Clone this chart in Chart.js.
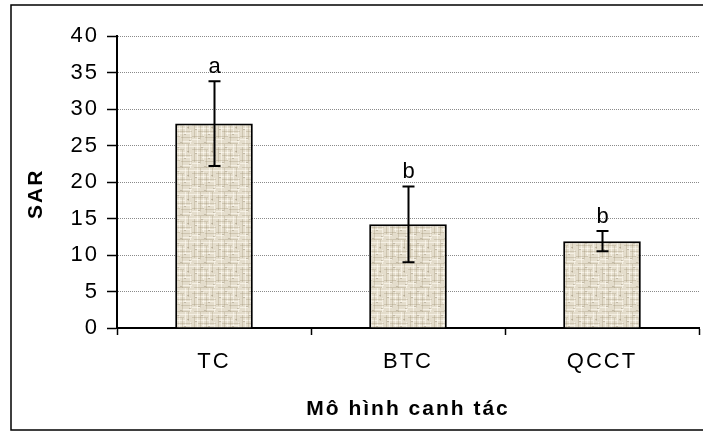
<!DOCTYPE html>
<html>
<head>
<meta charset="utf-8">
<style>
  html, body { margin: 0; padding: 0; background: #fff; }
  #wrap { position: relative; width: 703px; height: 432px; }
</style>
<script src="https://cdn.jsdelivr.net/npm/chart.js@4/dist/chart.umd.min.js"></script>
</head>
<body>
<div id="wrap"><canvas id="c" width="703" height="432"></canvas></div>
<script>
// SAR by farming model: mean, standard error and significance group
const categories = ['TC', 'BTC', 'QCCT'];
const sarMean = [28.0, 14.2, 11.9];
const sarError = [5.8, 5.2, 1.4];
const groupLetters = ['a', 'b', 'b'];
const yMin = 0;
const yMax = 40;
const yStep = 5;

const FONT = 'Liberation Sans, Arial, sans-serif';
const SPACING = '2px';
const canvas = document.getElementById('c');
const ctx2d = canvas.getContext('2d');

// Woven linen-like fill for the bars: pale weave with uneven threads
function linenPattern() {
  const p = document.createElement('canvas');
  p.width = 24; p.height = 24;
  const g = p.getContext('2d');
  g.fillStyle = '#e4ddcc';
  g.fillRect(0, 0, 24, 24);
  // pale threads
  g.fillStyle = 'rgba(255,252,242,0.6)';
  [[0, 2, 24], [3, 8, 14], [10, 13, 12], [0, 19, 9], [14, 21, 10]].forEach(([x, y, w]) => g.fillRect(x, y, w, 1));
  [[5, 0, 24], [11, 4, 12], [17, 0, 14], [22, 10, 14]].forEach(([x, y, h]) => g.fillRect(x, y, 1, h));
  // darker threads
  g.fillStyle = 'rgba(150,135,105,0.28)';
  [[0, 5, 16], [6, 11, 18], [0, 16, 12], [13, 17, 11], [2, 23, 20]].forEach(([x, y, w]) => g.fillRect(x, y, w, 1));
  [[2, 3, 15], [8, 0, 20], [14, 6, 18], [20, 0, 9]].forEach(([x, y, h]) => g.fillRect(x, y, 1, h));
  // specks
  g.fillStyle = 'rgba(120,105,80,0.3)';
  [[3, 9], [9, 3], [16, 14], [21, 20], [12, 22], [6, 18], [19, 7]].forEach(([x, y]) => g.fillRect(x, y, 2, 1));
  return ctx2d.createPattern(p, 'repeat');
}

// Slightly wide lettering for every text drawn on the canvas
const textSpacing = {
  id: 'textSpacing',
  beforeLayout(chart) { chart.ctx.letterSpacing = SPACING; },
  beforeDraw(chart) { chart.ctx.letterSpacing = SPACING; }
};

// Error bars and significance letters above each bar
const errorBars = {
  id: 'errorBars',
  afterDatasetsDraw(chart) {
    const ctx = chart.ctx;
    const y = chart.scales.y;
    const meta = chart.getDatasetMeta(0);
    ctx.save();
    ctx.letterSpacing = SPACING;
    ctx.strokeStyle = '#000';
    ctx.lineWidth = 2;
    ctx.fillStyle = '#000';
    ctx.font = '22px ' + FONT;
    ctx.textAlign = 'center';
    ctx.textBaseline = 'alphabetic';
    meta.data.forEach((bar, i) => {
      const top = y.getPixelForValue(sarMean[i] + sarError[i]);
      const bot = y.getPixelForValue(sarMean[i] - sarError[i]);
      const x = Math.round(bar.x) + 0.5;
      ctx.beginPath();
      ctx.moveTo(x, top); ctx.lineTo(x, bot);
      ctx.moveTo(x - 6, top); ctx.lineTo(x + 6, top);
      ctx.moveTo(x - 6, bot); ctx.lineTo(x + 6, bot);
      ctx.stroke();
      ctx.fillText(groupLetters[i], x + 1, top - 8);
    });
    ctx.restore();
  }
};

// Outer frame around the whole chart
const outerFrame = {
  id: 'outerFrame',
  afterDraw(chart) {
    const ctx = chart.ctx;
    ctx.save();
    ctx.strokeStyle = '#000';
    ctx.lineWidth = 1.5;
    ctx.strokeRect(11, 5, 700, 425);
    ctx.restore();
  }
};

new Chart(canvas, {
  type: 'bar',
  data: {
    labels: categories,
    datasets: [{
      data: sarMean,
      backgroundColor: linenPattern(),
      borderColor: '#000',
      borderWidth: 2,
      barPercentage: 0.4,
      categoryPercentage: 1.0
    }]
  },
  options: {
    responsive: false,
    animation: false,
    layout: { padding: { top: 36, right: 4, left: 0, bottom: 0 } },
    plugins: { legend: { display: false }, tooltip: { enabled: false } },
    scales: {
      x: {
        offset: true,
        grid: {
          offset: true,
          drawOnChartArea: false,
          drawTicks: true,
          tickLength: 7,
          tickColor: '#000',
          tickWidth: 1.5
        },
        border: { color: '#000', width: 2 },
        ticks: { color: '#000', font: { family: FONT, size: 22 }, padding: 14 },
        title: {
          display: true,
          text: 'Mô hình canh tác',
          color: '#000',
          font: { family: FONT, size: 21, weight: 'bold' },
          padding: { top: 0, bottom: 10 }
        },
        afterFit(s) { s.height = 104; }
      },
      y: {
        min: yMin,
        max: yMax,
        ticks: { stepSize: yStep, color: '#000', font: { family: FONT, size: 22 }, padding: 8 },
        grid: {
          color: c => (c.tick && c.tick.value === 0) ? 'rgba(0,0,0,0)' : '#8a8a8a',
          lineWidth: 1,
          tickLength: 10,
          tickColor: '#000',
          tickWidth: 1.5
        },
        border: { color: '#000', width: 2, dash: [1, 1] },
        title: {
          display: true,
          // trailing spaces nudge the rotated title slightly down the axis
          text: 'SAR   ',
          color: '#000',
          font: { family: FONT, size: 21, weight: 'bold' },
          padding: { top: 24, bottom: 0 }
        },
        afterFit(s) { s.width = 117; }
      }
    }
  },
  plugins: [textSpacing, errorBars, outerFrame]
});
</script>
</body>
</html>
